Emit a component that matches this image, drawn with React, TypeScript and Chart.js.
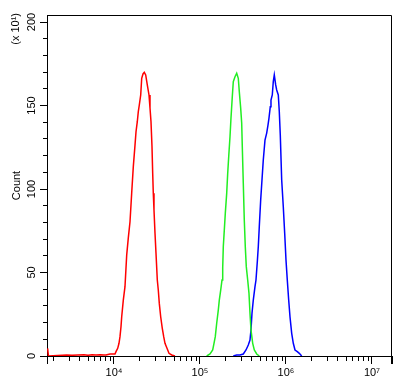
import { useEffect, useRef } from 'react';
import { Chart, registerables } from 'chart.js';

Chart.register(...registerables);

// ---- data ----
const redX = [1690, 1730, 2818, 3250, 3812, 4480, 4990, 5550, 6180, 6880, 7650, 8070, 8990, 10270, 10550, 11040, 11430, 11740, 12060, 12290, 12830, 13420, 14050, 14670, 15350, 16060, 16770, 17550, 18030, 18660, 19170, 19690, 20440, 21000, 21740, 22510, 23370, 24390, 25530, 26220, 26930, 27660, 28180, 28640, 29180, 29980, 30790, 31880, 32740, 33630, 34910, 36440, 37840, 39170, 41330, 43610, 46880, 51210];
const redCounts = [4.6, 0, 0.6, 0.4, 0.6, 0.8, 0.4, 0.8, 0.6, 0.8, 0.6, 0.6, 1.2, 1.2, 2.6, 4.6, 7.6, 11.6, 17.5, 23.5, 33.5, 41.5, 60.5, 70.7, 80.4, 97.6, 113.4, 126.3, 134.3, 140.3, 146.3, 150.3, 156.3, 166.3, 168.9, 169.9, 168.3, 162.3, 156.3, 148.5, 140.3, 125.3, 109.4, 97.4, 87.4, 73.5, 61.5, 45.5, 39.5, 31.5, 23.5, 16.6, 11.6, 7.6, 4.6, 1.6, 0.6, 0];

const greenX = [119600, 130700, 140500, 145500, 150600, 156400, 163200, 167700, 174100, 180300, 183700, 186600, 191700, 196900, 204400, 210000, 215700, 223300, 229300, 237500, 243900, 255300, 267200, 278900, 286400, 297400, 305400, 310400, 318800, 327400, 336300, 345400, 358600, 371300, 381400, 391700, 410100, 428100, 456400, 489300];
const greenCounts = [0, 1.2, 3.6, 7.6, 11.6, 19.6, 27.5, 33.5, 39.5, 45.5, 52.7, 65.4, 75.4, 85.4, 97.4, 109.4, 119.3, 131.3, 142.5, 155.3, 164.3, 167.2, 169.3, 166.3, 158.3, 148.3, 139.5, 125.3, 103.4, 81.4, 65.4, 53.5, 45.5, 37.5, 25.6, 15.6, 7.6, 3.6, 1.2, 0];

const blueX = [243900, 267100, 291800, 318800, 342700, 364400, 381400, 391700, 402400, 416600, 436000, 447800, 463700, 476300, 489200, 507800, 525800, 544500, 569800, 596400, 617500, 634200, 656600, 669100, 692800, 711600, 731100, 759000, 779500, 813800, 835900, 858500, 891300, 930200, 965800, 1000000, 1035400, 1075000, 1113000, 1165000, 1216000, 1273000, 1353000, 1428000, 1523000];
const blueCounts = [0, 0.6, 0.6, 1.2, 3.6, 6.6, 9.6, 15.6, 25.6, 33.5, 41.5, 45.5, 56.3, 65.4, 77.4, 93.4, 105.4, 117.4, 129.3, 133.5, 138.3, 142.5, 149.3, 153.3, 156.3, 164.3, 168.3, 162.3, 159.3, 156.3, 146.3, 132.3, 105.4, 89.4, 73.5, 57.5, 45.5, 33.5, 23.5, 13.6, 7.6, 3.6, 2.6, 1.6, 0];

// ---- axes ----
const xMin = 1663;
const xMax = 17090000;
const xTickValues = [
  1663,
  2000, 3000, 4000, 5000, 6000, 7000, 8000, 9000,
  10000, 20000, 30000, 40000, 50000, 60000, 70000, 80000, 90000,
  100000, 200000, 300000, 400000, 500000, 600000, 700000, 800000, 900000,
  1000000, 2000000, 3000000, 4000000, 5000000, 6000000, 7000000, 8000000, 9000000,
  10000000, 17090000,
];
const xDecadeLabels: Record<number, string> = { 10000: '10⁴', 100000: '10⁵', 1000000: '10⁶', 10000000: '10⁷' };
const yMin = 0;
const yMax = 204.2;
const yTickValues = [0, 10, 20, 30, 40, 50, 60, 70, 80, 90, 100, 110, 120, 130, 140, 150, 160, 170, 180, 190, 200];
const yLabelEvery = 50;
const yTitle = 'Count';
const yMultiplier = '(x 10¹)';

const FONT = "'Liberation Sans', Arial, Helvetica, sans-serif";

const isMajorX = (v: number) => v === xMin || v === xMax || v in xDecadeLabels;

const framePlugin = {
  id: 'frame',
  afterDraw(chart: any) {
    const { ctx, chartArea } = chart;
    const { left, right, top, bottom } = chartArea;
    ctx.save();
    ctx.strokeStyle = '#000';
    ctx.lineWidth = 1;
    ctx.beginPath();
    ctx.moveTo(left, top + 0.5);
    ctx.lineTo(right - 0.5, top + 0.5);
    ctx.lineTo(right - 0.5, bottom + 8);
    ctx.stroke();
    // multiplier label
    const ys = chart.scales.y;
    ctx.translate(ys.left + 16, top - 2);
    ctx.rotate(-Math.PI / 2);
    ctx.font = `11px ${FONT}`;
    ctx.fillStyle = '#000';
    ctx.textAlign = 'right';
    ctx.textBaseline = 'middle';
    ctx.fillText(yMultiplier, 0, 0);
    ctx.restore();
  },
};

export default function App() {
  const ref = useRef<HTMLCanvasElement | null>(null);

  useEffect(() => {
    document.body.style.margin = '0';
    const canvas = ref.current;
    if (!canvas) return;
    const mk = (xs: number[], ys: number[]) => xs.map((x, i) => ({ x, y: ys[i] }));
    const chart = new Chart(canvas, {
      type: 'line',
      data: {
        datasets: [
          { label: 'red', data: mk(redX, redCounts), borderColor: '#ff0000' },
          { label: 'green', data: mk(greenX, greenCounts), borderColor: '#22ee22' },
          { label: 'blue', data: mk(blueX, blueCounts), borderColor: '#0000ff' },
        ].map((d) => ({ ...d, borderWidth: 1.5, pointRadius: 0, tension: 0, fill: false })),
      },
      options: {
        animation: false,
        responsive: false,
        devicePixelRatio: 1,
        events: [],
        layout: { padding: { top: 15, right: 17, left: 0, bottom: 0 } },
        plugins: { legend: { display: false }, tooltip: { enabled: false }, title: { display: false } },
        font: { family: FONT, size: 11 },
        color: '#000',
        scales: {
          x: {
            type: 'logarithmic',
            position: 'bottom',
            min: xMin,
            max: xMax,
            z: 1,
            afterBuildTicks: (s: any) => {
              s.ticks = xTickValues.map((v) => ({ value: v, major: isMajorX(v) }));
            },
            afterFit: (s: any) => {
              s.height = 30;
            },
            border: { display: true, color: '#000', width: 1 },
            grid: {
              drawOnChartArea: false,
              drawTicks: true,
              tickLength: 8,
              tickColor: '#000',
              tickWidth: 1,
              tickBorderDash: (c: any) => (c.tick && isMajorX(c.tick.value) ? [] : [4, 100]),
            },
            ticks: {
              autoSkip: false,
              maxRotation: 0,
              minRotation: 0,
              padding: 2,
              color: '#000',
              font: { family: FONT, size: 11 },
              callback: (v: any) => xDecadeLabels[v as number] ?? '',
            },
          },
          y: {
            type: 'linear',
            position: 'left',
            min: yMin,
            max: yMax,
            z: 1,
            afterBuildTicks: (s: any) => {
              s.ticks = yTickValues.map((v) => ({ value: v }));
            },
            afterFit: (s: any) => {
              s.width = 47;
            },
            border: { display: true, color: '#000', width: 1 },
            grid: {
              drawOnChartArea: false,
              drawTicks: true,
              tickLength: 7,
              tickColor: '#000',
              tickWidth: 1,
              tickBorderDash: (c: any) => (c.tick && c.tick.value % yLabelEvery === 0 ? [] : [0, 3, 4, 100]),
            },
            title: {
              display: true,
              text: yTitle,
              color: '#000',
              font: { family: FONT, size: 11 },
              padding: { top: 10, bottom: 0 },
            },
            ticks: {
              autoSkip: false,
              minRotation: 90,
              maxRotation: 90,
              crossAlign: 'center',
              padding: -1,
              color: '#000',
              font: { family: FONT, size: 11 },
              callback: (v: any) => ((v as number) % yLabelEvery === 0 ? String(v) : ''),
            },
          },
        },
      },
      plugins: [framePlugin],
    } as any);
    return () => chart.destroy();
  }, []);

  return (
    <div style={{ width: 409, height: 386 }}>
      <canvas ref={ref} width={409} height={386} style={{ width: 409, height: 386, display: 'block' }} />
    </div>
  );
}
